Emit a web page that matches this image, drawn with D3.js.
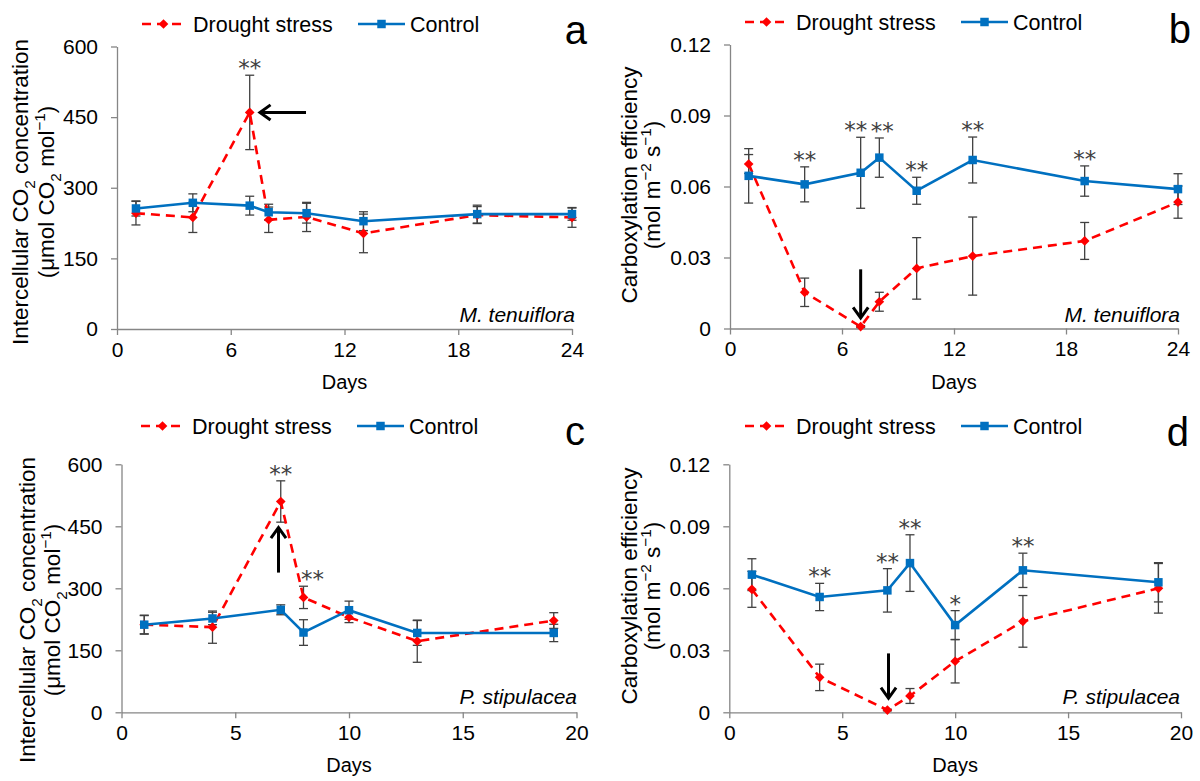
<!DOCTYPE html>
<html>
<head>
<meta charset="utf-8">
<script src="https://cdn.jsdelivr.net/npm/d3@7"></script>
<style>
    body { margin: 0; background: #fff; }
    svg { display: block; }
    .axis path, .axis line { stroke: #868686; stroke-width: 1.3; }
    .axis text { fill: #000; }
</style>
</head>
<body>
<svg id="chart" width="1200" height="781"></svg>
<script>
//DAYS OF MEASUREMENT
var daysM = [1, 4, 7, 8, 10, 13, 19, 24],
    daysP = [1, 4, 7, 8, 10, 13, 19];

//panel a - intercellular CO2, M. tenuiflora
var ciDroughtM = [246, 237, 460, 232, 238, 203, 242, 237],
    ciDroughtMErr = [25, 32, 79, 27, 31, 41, 18, 21],
    ciControlM = [256, 268, 262, 248, 246, 229, 244, 244],
    ciControlMErr = [16, 19, 20, 17, 21, 20, 19, 13];

//panel b - carboxylation efficiency, M. tenuiflora
var ceDroughtM = [0.0695, 0.0153, 0.0008, 0.0113, 0.0254, 0.0306, 0.0370, 0.0534],
    ceDroughtMErr = [0.004, 0.006, 0.0004, 0.004, 0.013, 0.0165, 0.0078, 0.0068],
    ceControlM = [0.0645, 0.0609, 0.0658, 0.0722, 0.0582, 0.0712, 0.0623, 0.0589],
    ceControlMErr = [0.0115, 0.0074, 0.015, 0.0083, 0.0057, 0.0097, 0.0064, 0.0065];

//panel c - intercellular CO2, P. stipulacea
var ciDroughtP = [212, 206, 510, 278, 230, 172, 222],
    ciDroughtPErr = [22, 39, 50, 27, 13, 51, 19],
    ciControlP = [212, 227, 248, 193, 247, 192, 192],
    ciControlPErr = [23, 15, 12, 31, 22, 30, 21];

//panel d - carboxylation efficiency, P. stipulacea
var ceDroughtP = [0.0595, 0.0169, 0.0011, 0.0079, 0.0247, 0.0440, 0.0600],
    ceDroughtPErr = [0.0087, 0.0064, 0.0004, 0.0036, 0.0105, 0.0125, 0.012],
    ceControlP = [0.0666, 0.0558, 0.0590, 0.0722, 0.0422, 0.0687, 0.0629],
    ceControlPErr = [0.0077, 0.0066, 0.0105, 0.0137, 0.007, 0.0083, 0.0095];

//significance marks
var sigA = ['', '', '**', '', '', '', '', ''],
    sigB = ['', '**', '**', '**', '**', '**', '**', ''],
    sigC = ['', '', '**', '**', '', '', ''],
    sigD = ['', '**', '**', '**', '*', '**', ''];

//arrows [day start, value start, day end, value end]
var arrowA = [9.97, 460, 7.54, 460],
    arrowB = [7, 0.025, 7, 0.0045],
    arrowC = [6.9, 338, 6.9, 447],
    arrowD = [7.05, 0.0285, 7.05, 0.0068];

//axis ticks
var ticksDaysM = [0, 6, 12, 18, 24],
    ticksDaysP = [0, 5, 10, 15, 20],
    ticksCi = [0, 150, 300, 450, 600],
    ticksCe = [0, 0.03, 0.06, 0.09, 0.12];

var FONT = "'Liberation Sans', Arial, sans-serif";
var RED = '#ff0000', BLUE = '#0070c0', ERR = '#404040';

var svg = d3.select('#chart');

var ciLabel = [
    [['Intercellular CO', ''], ['2', 'sub'], [' concentration', '']],
    [['(\u03bcmol CO', ''], ['2', 'sub'], [' mol', ''], ['\u22121', 'sup'], [')', '']]
];
var ceLabel = [
    [['Carboxylation efficiency', '']],
    [['(mol m', ''], ['\u22122', 'sup'], [' s', ''], ['\u22121', 'sup'], [')', '']]
];

var fmtCe = d => d === 0 ? '0' : d3.format('.2f')(d);

var panels = [
    {letter: 'a', days: daysM, dr: ciDroughtM, drE: ciDroughtMErr, co: ciControlM, coE: ciControlMErr,
     xTicks: ticksDaysM, yTicks: ticksCi, fmt: d => d, box: [117, 572, 46.5, 329],
     yLabel: ciLabel, labelX: [20, 46], labelY: 192, legend: [141, 24], letterPos: [587, 44],
     species: 'M. tenuiflora', speciesPos: [575, 322], sig: sigA, sigOn: 'dr', arrow: arrowA},
    {letter: 'b', days: daysM, dr: ceDroughtM, drE: ceDroughtMErr, co: ceControlM, coE: ceControlMErr,
     xTicks: ticksDaysM, yTicks: ticksCe, fmt: fmtCe, box: [730, 1178, 44.5, 328.5],
     yLabel: ceLabel, labelX: [629, 652], labelY: 185, legend: [744, 22], letterPos: [1191, 43],
     species: 'M. tenuiflora', speciesPos: [1180, 322], sig: sigB, sigOn: 'co', arrow: arrowB, sigShift: {2: -5, 3: 3}},
    {letter: 'c', days: daysP, dr: ciDroughtP, drE: ciDroughtPErr, co: ciControlP, coE: ciControlPErr,
     xTicks: ticksDaysP, yTicks: ticksCi, fmt: d => d, box: [121.5, 576.5, 464.3, 712.3],
     yLabel: ciLabel, labelX: [27, 52], labelY: 610, legend: [140, 426], letterPos: [585, 445],
     species: 'P. stipulacea', speciesPos: [577, 704], sig: sigC, sigOn: 'dr', arrow: arrowC, sigShift: {3: 9}},
    {letter: 'd', days: daysP, dr: ceDroughtP, drE: ceDroughtPErr, co: ceControlP, coE: ceControlPErr,
     xTicks: ticksDaysP, yTicks: ticksCe, fmt: fmtCe, box: [729.3, 1181, 464.3, 712.3],
     yLabel: ceLabel, labelX: [629, 652], labelY: 586, legend: [744, 426], letterPos: [1189, 446],
     species: 'P. stipulacea', speciesPos: [1180, 704], sig: sigD, sigOn: 'co', arrow: arrowD}
];

//diamond and square marker paths
var diamond = d3.symbol().type(d3.symbolDiamond2).size(60);
var square = d3.symbol().type(d3.symbolSquare).size(72);

//write text with sub/superscripts into a text element
function richText(text, parts, size) {
    var shift = 0;
    parts.forEach(function(p) {
        var t = text.append('tspan').text(p[0]);
        var target = p[1] === 'sub' ? size * 0.3 : p[1] === 'sup' ? -size * 0.38 : 0;
        if (target !== shift) t.attr('dy', target - shift);
        shift = target;
        if (p[1]) t.attr('font-size', size * 0.68);
    });
}

function drawPanel(p) {
    var g = svg.append('g').attr('class', 'panel-' + p.letter);
    var xMax = p.xTicks[p.xTicks.length - 1], yMax = p.yTicks[p.yTicks.length - 1];

    //scales
    var x = d3.scaleLinear().domain([0, xMax]).range([p.box[0], p.box[1]]),
        y = d3.scaleLinear().domain([0, yMax]).range([p.box[3], p.box[2]]);

    //x axis
    g.append('g')
        .attr('class', 'axis')
        .attr('transform', 'translate(0,' + p.box[3] + ')')
        .call(d3.axisBottom(x).tickValues(p.xTicks).tickSize(6).tickSizeOuter(0).tickPadding(7))
        .selectAll('text')
            .style('font-family', FONT)
            .style('font-size', '21px');

    //y axis
    g.append('g')
        .attr('class', 'axis')
        .attr('transform', 'translate(' + p.box[0] + ',0)')
        .call(d3.axisLeft(y).tickValues(p.yTicks).tickFormat(p.fmt).tickSize(6).tickSizeOuter(0).tickPadding(13))
        .selectAll('text')
            .style('font-family', FONT)
            .style('font-size', '21px');

    //x axis label
    g.append('text')
        .attr('x', (p.box[0] + p.box[1]) / 2)
        .attr('y', p.box[3] + 60)
        .attr('text-anchor', 'middle')
        .style('font-family', FONT)
        .style('font-size', '20px')
        .text('Days');

    //y axis label, two lines
    p.yLabel.forEach(function(line, i) {
        var t = g.append('text')
            .attr('transform', 'translate(' + (p.labelX[i] + 8) + ',' + p.labelY + ') rotate(-90)')
            .attr('text-anchor', 'middle')
            .style('font-family', FONT)
            .style('font-size', '22.5px');
        richText(t, line, 22.5);
    });

    //error bars
    function errorBars(vals, errs, cls) {
        var eb = g.append('g').attr('class', cls).attr('stroke', ERR).attr('stroke-width', 1.3);
        vals.forEach(function(v, i) {
            var cx = x(p.days[i]), y1 = y(v + errs[i]), y2 = y(Math.max(0, v - errs[i]));
            eb.append('line').attr('x1', cx).attr('x2', cx).attr('y1', y1).attr('y2', y2);
            eb.append('line').attr('x1', cx - 4.5).attr('x2', cx + 4.5).attr('y1', y1).attr('y2', y1);
            eb.append('line').attr('x1', cx - 4.5).attr('x2', cx + 4.5).attr('y1', y2).attr('y2', y2);
        });
    }
    errorBars(p.dr, p.drE, 'err-drought');
    errorBars(p.co, p.coE, 'err-control');

    var line = d3.line().x((d, i) => x(p.days[i])).y(d => y(d));

    //drought series
    g.append('path')
        .attr('d', line(p.dr))
        .attr('fill', 'none')
        .attr('stroke', RED)
        .attr('stroke-width', 2.6)
        .attr('stroke-dasharray', '9,6');
    g.selectAll('.dmark').data(p.dr).enter().append('path')
        .attr('class', 'dmark')
        .attr('d', diamond)
        .attr('transform', (d, i) => 'translate(' + x(p.days[i]) + ',' + y(d) + ')')
        .attr('fill', RED);

    //control series
    g.append('path')
        .attr('d', line(p.co))
        .attr('fill', 'none')
        .attr('stroke', BLUE)
        .attr('stroke-width', 2.6);
    g.selectAll('.cmark').data(p.co).enter().append('path')
        .attr('class', 'cmark')
        .attr('d', square)
        .attr('transform', (d, i) => 'translate(' + x(p.days[i]) + ',' + y(d) + ')')
        .attr('fill', BLUE);

    //significance asterisks above the error bars
    var sv = p.sigOn === 'dr' ? p.dr : p.co, se = p.sigOn === 'dr' ? p.drE : p.coE;
    p.sig.forEach(function(s, i) {
        if (!s) return;
        var dx = p.sigShift && p.sigShift[i] ? p.sigShift[i] : 0;
        g.append('text')
            .attr('x', x(p.days[i]) + dx)
            .attr('y', y(sv[i] + se[i]) + 1)
            .attr('text-anchor', 'middle')
            .attr('fill', '#404040')
            .style('font-family', "'DejaVu Sans', sans-serif")
            .style('font-size', '23px')
            .text(s);
    });

    //arrow
    var ax1 = x(p.arrow[0]), ay1 = y(p.arrow[1]), ax2 = x(p.arrow[2]), ay2 = y(p.arrow[3]);
    var ang = Math.atan2(ay2 - ay1, ax2 - ax1), hl = 13, hw = 0.62;
    g.append('line')
        .attr('x1', ax1).attr('y1', ay1).attr('x2', ax2 - Math.cos(ang) * 1.5).attr('y2', ay2 - Math.sin(ang) * 1.5)
        .attr('stroke', '#000').attr('stroke-width', 3);
    g.append('path')
        .attr('d', 'M' + (ax2 - hl * Math.cos(ang - hw)) + ',' + (ay2 - hl * Math.sin(ang - hw)) +
            'L' + ax2 + ',' + ay2 +
            'L' + (ax2 - hl * Math.cos(ang + hw)) + ',' + (ay2 - hl * Math.sin(ang + hw)))
        .attr('fill', 'none').attr('stroke', '#000').attr('stroke-width', 3)
        .attr('stroke-linejoin', 'miter');

    //species name
    g.append('text')
        .attr('x', p.speciesPos[0])
        .attr('y', p.speciesPos[1])
        .attr('text-anchor', 'end')
        .style('font-family', FONT)
        .style('font-style', 'italic')
        .style('font-size', '21px')
        .text(p.species);

    //panel letter
    g.append('text')
        .attr('x', p.letterPos[0])
        .attr('y', p.letterPos[1])
        .attr('text-anchor', 'end')
        .style('font-family', FONT)
        .style('font-size', '40px')
        .text(p.letter);

    //legend
    var lg = g.append('g').attr('transform', 'translate(' + p.legend[0] + ',' + p.legend[1] + ')');
    lg.append('line').attr('x1', 0).attr('x2', 45).attr('stroke', RED).attr('stroke-width', 2.6).attr('stroke-dasharray', '9,6').attr('stroke-dashoffset', -1);
    lg.append('path').attr('d', diamond).attr('transform', 'translate(22.5,0)').attr('fill', RED);
    lg.append('text').attr('x', 52).attr('y', 7.5)
        .style('font-family', FONT).style('font-size', '21.5px').text('Drought stress');
    lg.append('line').attr('x1', 217).attr('x2', 264).attr('stroke', BLUE).attr('stroke-width', 2.6);
    lg.append('path').attr('d', square).attr('transform', 'translate(240.5,0)').attr('fill', BLUE);
    lg.append('text').attr('x', 269).attr('y', 7.5)
        .style('font-family', FONT).style('font-size', '21.5px').text('Control');
}

panels.forEach(drawPanel);
</script>
</body>
</html>
